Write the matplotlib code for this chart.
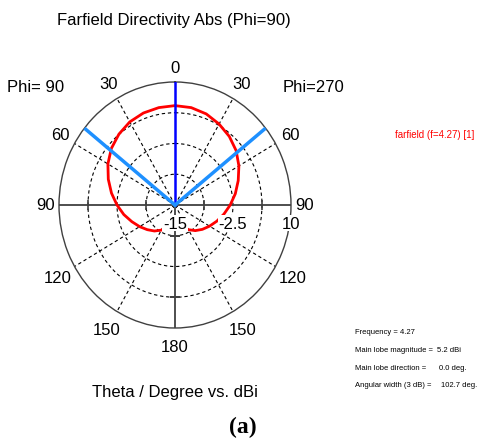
import numpy as np
import matplotlib.pyplot as plt

# farfield cut at Phi=90: theta in degrees (negative = Phi=90 side), directivity in dBi
theta_deg = [-180, -170, -160, -150, -140, -130, -120, -110, -100, -90, -80, -70,
             -60, -50, -40, -30, -20, -10, 0, 10, 20, 30, 40, 50, 60, 70, 80, 90,
             100, 110, 120, 130, 140, 150, 160, 170, 180]
directivity = [-11.6, -11.2, -10.3, -9.1, -8.1, -7.2, -6.2, -5.1, -3.8, -2.5, -1.1, 0.3,
               1.7, 2.9, 3.8, 4.5, 4.9, 5.1, 5.2, 5.1, 4.7, 4.0, 3.2, 2.2, 0.9, -0.5, -1.8, -3.1,
               -4.3, -5.4, -6.4, -7.3, -8.2, -9.2, -10.4, -11.3, -11.6]

main_lobe_dir = 0.0
beam_width = 102.7
r_min, r_max = -15, 10
ring_values = [-8.75, -2.5, 3.75]
angle_labels = [0, 30, 60, 90, 120, 150, 180]
info_labels = ['Frequency = 4.27', 'Main lobe magnitude =', 'Main lobe direction =',
               'Angular width (3 dB) =']
info_values = ['', '5.2 dBi', '0.0 deg.', '102.7 deg.']

W, H = 492, 439
plt.rcParams['font.family'] = ['Liberation Sans', 'DejaVu Sans']
grey = '#404040'


def fx(px):
    return px / W


def fy(py):
    return 1 - py / H


fig = plt.figure(figsize=(W / 100, H / 100), dpi=100)
ax = fig.add_axes([fx(59), fy(329), fx(232), 246 / H], projection='polar')
ax.set_aspect('auto')
ax.set_theta_zero_location('N')
ax.set_theta_direction(-1)
ax.set_ylim(r_min, r_max)

dash = (0, (3, 2.5))
ax.set_yticks(ring_values)
ax.set_yticklabels([])
ax.set_xticks(np.radians([30, 60, 120, 150, 210, 240, 300, 330]))
ax.set_xticklabels([])
ax.grid(True, color='black', lw=0.8, ls=dash)
ax.tick_params(length=0)
ax.spines['polar'].set_color(grey)
ax.spines['polar'].set_linewidth(1.0)

# axis cross and tick marks where the rings meet it
for a in [np.pi / 2, -np.pi / 2, np.pi]:
    ax.plot([a, a], [r_min, r_max], color=grey, lw=1.3, zorder=2)
ax.plot([np.pi / 2] * 2 + [-np.pi / 2] * 2, [ring_values[0], ring_values[2]] * 2,
        ls='none', marker='|', ms=7, mew=1.2, color=grey, zorder=2)
ax.plot([np.pi] * 2, [ring_values[0], ring_values[2]], ls='none', marker='_',
        ms=7, mew=1.2, color=grey, zorder=2)

ax.plot(np.radians(theta_deg), directivity, color='red', lw=2, zorder=4)

# main lobe direction and 3 dB beam width
ax.plot([np.radians(main_lobe_dir)] * 2, [r_min, r_max], color='#0000ff', lw=1.8, zorder=5)
for s in [-1, 1]:
    a = np.radians(main_lobe_dir + s * beam_width / 2)
    ax.plot([a, a], [r_min, r_max], color='#1e90ff', lw=2.5, zorder=5)

# theta labels sit just outside the rim, a little further out on the diagonals
label_r = {0: 13.0, 30: 13.6, 60: 13.6, 90: 12.9, 120: 14.3, 150: 14.3, 180: 13.7}
for deg in angle_labels:
    for s in ([1] if deg in (0, 180) else [-1, 1]):
        ax.text(np.radians(s * deg), label_r[deg], str(deg), ha='center', va='center',
                fontsize=12, clip_on=False)

box = dict(facecolor='white', edgecolor='none', pad=0.5)
for val, txt in [(r_min, '-15'), (-2.5, '-2.5'), (r_max, '10')]:
    ax.annotate(txt, xy=(np.pi / 2, val), xytext=(0, -13), textcoords='offset points',
                ha='center', va='center', fontsize=12, bbox=box, zorder=6)

fig.text(fx(174), fy(20), 'Farfield Directivity Abs (Phi=90)', ha='center', va='center', fontsize=12)
fig.text(fx(36), fy(88), 'Phi= 90', ha='center', va='center', fontsize=12)
fig.text(fx(313), fy(88), 'Phi=270', ha='center', va='center', fontsize=12)
fig.text(fx(175), fy(393), 'Theta / Degree vs. dBi', ha='center', va='center', fontsize=12)
fig.text(fx(243), fy(427), '(a)', ha='center', va='center', fontsize=17,
         fontweight='bold', family='Liberation Serif')

fig.text(fx(435), fy(135), 'farfield (f=4.27) [1]', ha='center', va='center',
         fontsize=7, color='red')
value_x = [0, 437, 439, 441]
for i, (lab, val) in enumerate(zip(info_labels, info_values)):
    y = fy(333 + 17.6 * i)
    fig.text(fx(355), y, lab, ha='left', va='center', fontsize=5.5)
    if val:
        fig.text(fx(value_x[i]), y, val, ha='left', va='center', fontsize=5.5)

fig.savefig('out.png', dpi=100)
